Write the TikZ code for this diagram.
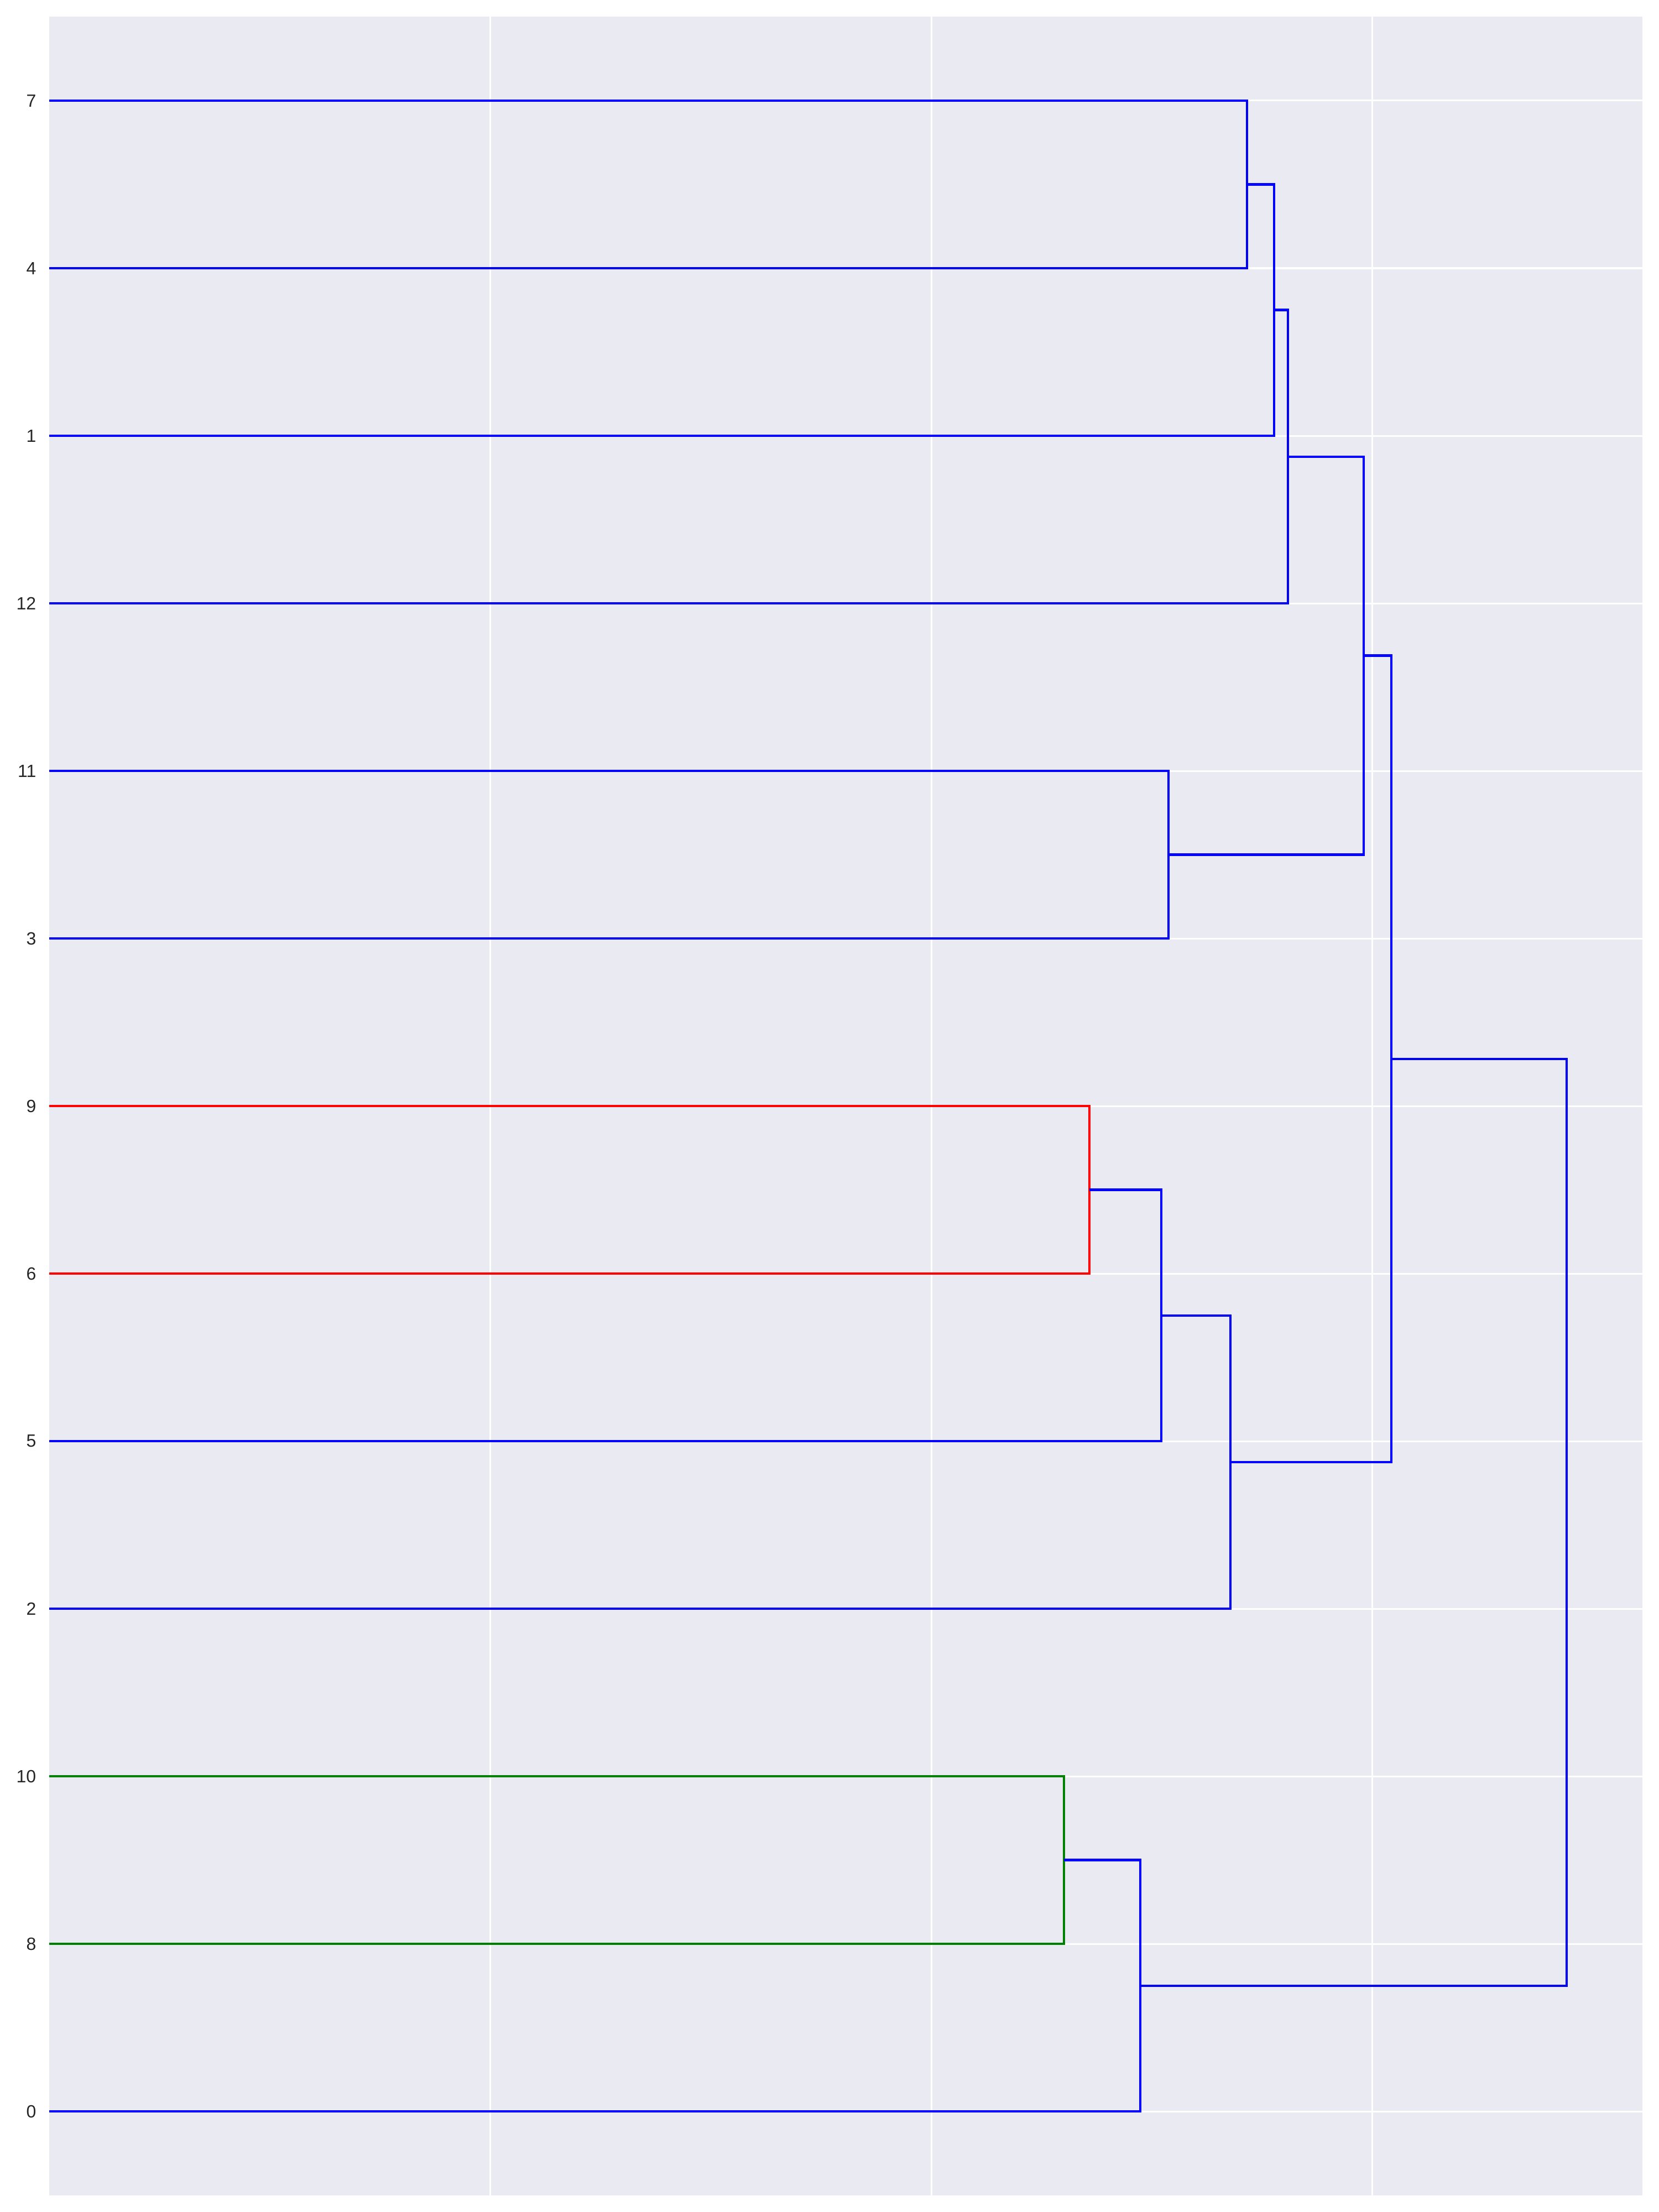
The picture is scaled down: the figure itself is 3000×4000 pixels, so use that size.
\documentclass[tikz,border=0pt]{standalone}
\usepackage{fontspec}
\setmainfont{Liberation Sans}
\definecolor{axbg}{HTML}{EAEAF2}
\definecolor{ticktext}{HTML}{262626}
\definecolor{lblue}{HTML}{0000FF}
\definecolor{lred}{HTML}{FF0000}
\definecolor{lgreen}{HTML}{008000}
\begin{document}
\begin{tikzpicture}[x=0.01cm,y=-0.01cm,
  grid/.style={white,line width=3*0.2845pt},
  link/.style={line width=4.5*0.2845pt,line join=miter},
  lbl/.style={anchor=east,inner sep=0pt,text=ticktext,font=\fontsize{9.1pt}{11pt}\selectfont}]
\useasboundingbox (0,0) rectangle (3000,4000);
\fill[white] (0,0) rectangle (3000,4000);
\fill[axbg] (89,30) rectangle (2970,3970);
% grid
\foreach \gx in {886.5,1684,2481.5} \draw[grid] (\gx,30) -- (\gx,3970);
\foreach \k in {0,...,12} \draw[grid] (89,182+303*\k) -- (2970,182+303*\k);
% leaves and labels
\foreach \lab [count=\k from 0] in {7,4,1,12,11,3,9,6,5,2,10,8,0} {
  \coordinate (L\lab) at (89,182+303*\k);
  \node[lbl] (t\lab) at (66,182+303*\k) {\lab};
}
% merge points (x = height, y = midpoint)
\coordinate (m74) at (2255,333.5);
\coordinate (m741) at (2304,560.75);
\coordinate (m74112) at (2329,825.9);
\coordinate (m113) at (2113,1545.5);
\coordinate (mA) at (2466,1185.7);
\coordinate (m96) at (1970,2151.5);
\coordinate (m965) at (2100,2378.75);
\coordinate (m9652) at (2225,2643.9);
\coordinate (mB) at (2516,1914.8);
\coordinate (m108) at (1924,3363.5);
\coordinate (m1080) at (2062,3590.75);
\coordinate (root) at (2833,2752.8);
% links
\draw[link,lblue] (L7) -| (m74) |- (L4);
\draw[link,lblue] (m74) -| (m741) |- (L1);
\draw[link,lblue] (m741) -| (m74112) |- (L12);
\draw[link,lblue] (L11) -| (m113) |- (L3);
\draw[link,lblue] (m74112) -| (mA) |- (m113);
\draw[link,lred] (L9) -| (m96) |- (L6);
\draw[link,lblue] (m96) -| (m965) |- (L5);
\draw[link,lblue] (m965) -| (m9652) |- (L2);
\draw[link,lblue] (mA) -| (mB) |- (m9652);
\draw[link,lgreen] (L10) -| (m108) |- (L8);
\draw[link,lblue] (m108) -| (m1080) |- (L0);
\draw[link,lblue] (mB) -| (root) |- (m1080);
\end{tikzpicture}
\end{document}
